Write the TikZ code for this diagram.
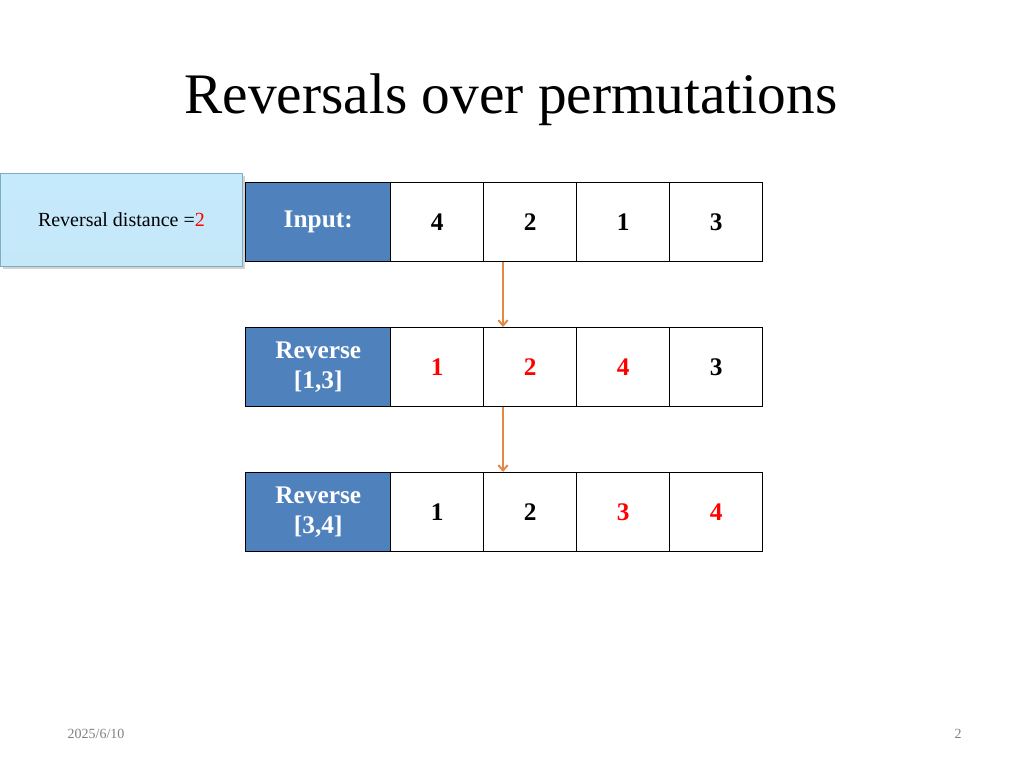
\documentclass[tikz,border=0pt]{standalone}
\usepackage{fontspec}
\setmainfont{Liberation Serif}
\usetikzlibrary{shadows,arrows.meta}
\definecolor{hdr}{HTML}{4F81BD}
\definecolor{arr}{HTML}{E08A4A}
\definecolor{lb1}{HTML}{C5EAFB}
\definecolor{lb2}{HTML}{9ED9F5}
\begin{document}
\begin{tikzpicture}[x=0.75pt,y=-0.75pt,
  cell/.style={draw=black,line width=1.1pt,minimum width=93*0.75pt,minimum height=79*0.75pt,anchor=north west,inner sep=0pt,font=\fontsize{19}{22}\selectfont\bfseries},
  head/.style={cell,fill=hdr,text=white,minimum width=145*0.75pt,align=center},
  red/.style={text=red},
  flow/.style={draw=arr,line width=1.5pt,-{Straight Barb[length=4pt,width=7pt]}}]
\useasboundingbox (0,0) rectangle (1024,768);
\node[font=\fontsize{43}{50}\selectfont] (title) at (511,100) {Reversals over permutations};
\node[draw=lb2!80!black,line width=0.6pt,top color=lb1,bottom color=lb2!60,drop shadow={opacity=0.35},minimum width=242*0.75pt,minimum height=93*0.75pt,anchor=north west,font=\fontsize{15}{18}\selectfont] (dist) at (0,173) {Reversal distance =\textcolor{red}{2}};
% row 1
\node[head] (h1) at (245,182) {Input:};
\node[cell] (a1) at (390,182) {4};
\node[cell] (a2) at (483,182) {2};
\node[cell] (a3) at (576,182) {1};
\node[cell] (a4) at (669,182) {3};
% row 2
\node[head] (h2) at (245,327) {Reverse\\{}[1,3]};
\node[cell,red] (b1) at (390,327) {1};
\node[cell,red] (b2) at (483,327) {2};
\node[cell,red] (b3) at (576,327) {4};
\node[cell] (b4) at (669,327) {3};
% row 3
\node[head] (h3) at (245,472) {Reverse\\{}[3,4]};
\node[cell] (c1) at (390,472) {1};
\node[cell] (c2) at (483,472) {2};
\node[cell,red] (c3) at (576,472) {3};
\node[cell,red] (c4) at (669,472) {4};
\draw[flow] ([xshift=15pt]a2.south west) -- ([xshift=15pt]b2.north west);
\draw[flow] ([xshift=15pt]b2.south west) -- ([xshift=15pt]c2.north west);
\node[text=gray,font=\fontsize{10.5}{12}\selectfont] (date) at (96,734) {2025/6/10};
\node[text=gray,font=\fontsize{10.5}{12}\selectfont] (pg) at (958,734) {2};
\end{tikzpicture}
\end{document}
